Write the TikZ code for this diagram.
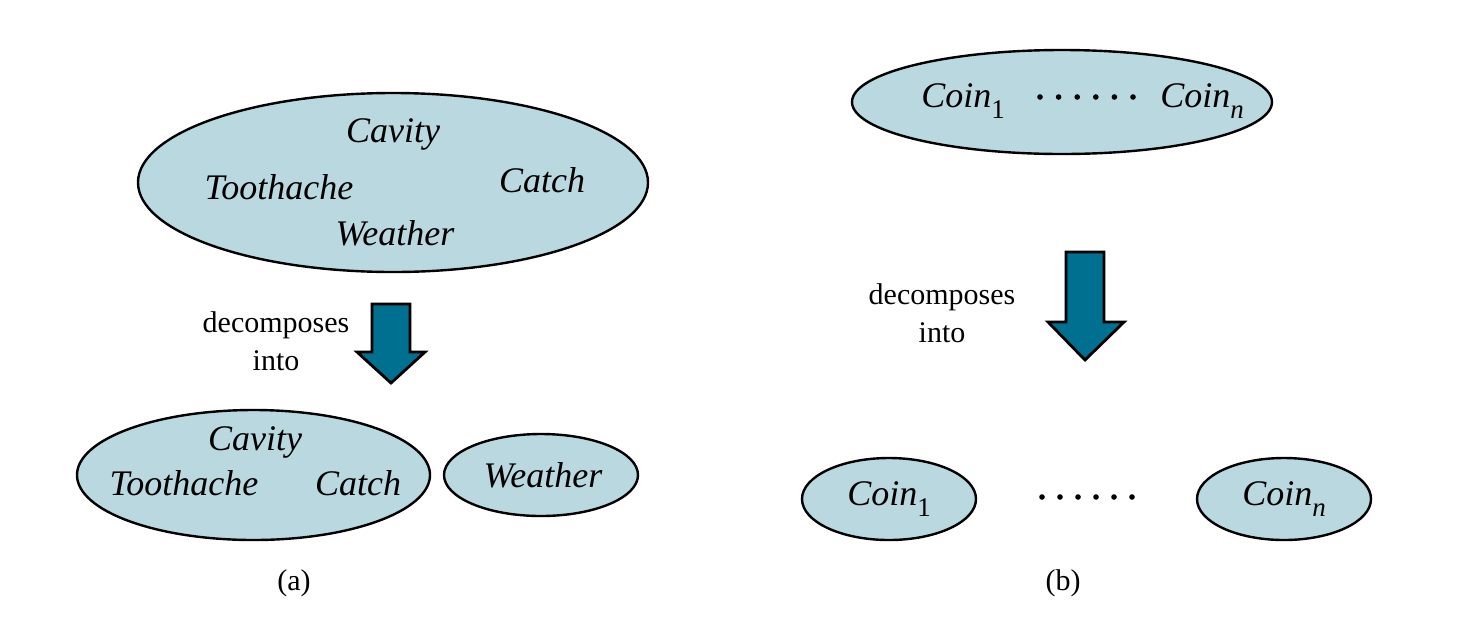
\documentclass[tikz,border=0pt]{standalone}
\usepackage{fontspec}
\setmainfont{Liberation Serif}
\usetikzlibrary{shapes.geometric}
\definecolor{ellfill}{RGB}{186,216,224}
\definecolor{arrfill}{RGB}{0,112,145}
\newcommand\sbs[1]{\raisebox{-0.32em}{\fontsize{13.5}{13.5}\selectfont #1}}
\tikzset{
  ell/.style={ellipse, draw=black, line width=1.2pt, fill=ellfill, inner sep=0pt},
  lab/.style={font=\fontsize{18}{22}\selectfont\itshape, anchor=base, inner sep=0pt},
  txt/.style={font=\fontsize{15}{19}\selectfont, align=center, anchor=base, inner sep=0pt},
  bigarrow/.style={draw=black, line width=1.4pt, fill=arrfill, line join=miter},
  dot/.style={circle, fill=black, inner sep=0pt, minimum size=2.8pt}
}
\begin{document}
\begin{tikzpicture}[x=0.5pt, y=-0.5pt]
\useasboundingbox (0,0) rectangle (1476,622);

% ---------- (a) ----------
\node[ell, minimum width=255pt, minimum height=89.5pt] (big) at (393,182.5) {};
\node[lab] (cav) at (393,142) {Cavity};
\node[lab] (tooth) at (279,199) {Toothache};
\node[lab] (catch) at (542,192) {Catch};
\node[lab] (weath) at (395,245) {Weather};

\node[txt] (deca) at (276,370) {decomposes\\into};

\coordinate (arA) at (391,304);
\draw[bigarrow] ([xshift=-9.5pt]arA) -- ([xshift=9.5pt]arA) -- ++(0,48) -- ++(15,0)
   -- (391,383) -- (357,352) -- ++(15,0) -- cycle;

\node[ell, minimum width=176.5pt, minimum height=65pt] (left) at (253.5,475) {};
\node[lab] (cav2) at (255,450) {Cavity};
\node[lab] (tooth2) at (184,495) {Toothache};
\node[lab] (catch2) at (358,495) {Catch};
\node[ell, minimum width=97pt, minimum height=41pt] (wbox) at (541,475) {};
\node[lab] (weath2) at (543,487) {Weather};

\node[txt] (capa) at (294,590) {(a)};

% ---------- (b) ----------
\node[ell, minimum width=210pt, minimum height=52pt] (coins) at (1062,102) {};
\node[lab, anchor=base west] (c1) at (921,107) {Coin\sbs{\upshape 1}};
\node[lab, anchor=base west] (cn) at (1160,107) {Coin\sbs{\itshape n}};
\foreach \i in {0,...,5} {
  \node[dot] (td\i) at ({1040+18.6*\i},97) {};
}

\node[txt] (decb) at (942,342) {decomposes\\into};

\coordinate (arB) at (1085,252);
\draw[bigarrow] (1066,252) -- (1104,252) -- (1104,322) -- (1124,322)
   -- (1085,360) -- (1048,322) -- (1066,322) -- cycle;

\node[ell, minimum width=87pt, minimum height=41pt, font=\fontsize{18}{22}\selectfont\itshape] (e1) at (889,499) {Coin\sbs{\upshape 1}};
\node[ell, minimum width=87pt, minimum height=41pt, font=\fontsize{18}{22}\selectfont\itshape] (en) at (1284,499) {Coin\sbs{\itshape n}};
\foreach \i in {0,...,5} {
  \node[dot] (bd\i) at ({1042+18*\i},497) {};
}

\node[txt] (capb) at (1063,590) {(b)};
\end{tikzpicture}
\end{document}
